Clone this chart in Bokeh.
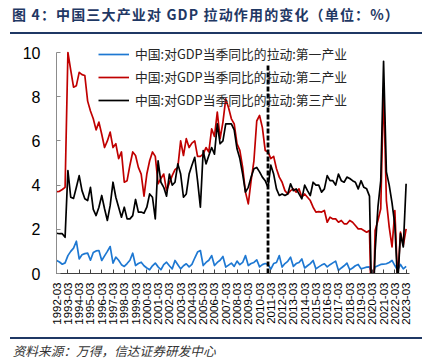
from bokeh.plotting import figure
from bokeh.models import Range1d, FixedTicker, Legend, LegendItem, Div
from bokeh.layouts import column
from bokeh.embed import file_html
from bokeh.resources import INLINE
from math import pi

# ---------------- data ----------------
quarters = [f"{y}-{m:02d}" for y in range(1992, 2024) for m in (3, 6, 9, 12)][:125]

primary = [
    0.59, 0.52, 0.42, 0.48, 0.81, 1.00, 1.15, 1.46, 0.66, 0.85, 0.90, 0.92,
    0.60, 0.95, 1.02, 1.04, 0.59, 0.80, 1.00, 1.22, 0.47, 0.74, 0.60, 0.40,
    0.32, 0.45, 0.60, 0.92, 0.36, 0.45, 0.51, 0.35, 0.25, 0.17, 0.35, 0.47,
    0.30, 0.17, 0.40, 0.51, 0.35, 0.21, 0.59, 0.40, 0.21, 0.35, 0.44, 0.30,
    0.41, 0.70, 0.97, 1.04, 0.36, 0.50, 0.60, 0.81, 0.36, 0.50, 0.60, 0.77,
    0.29, 0.38, 0.47, 0.32, 0.56, 0.40, 0.50, 0.81, 0.36, 0.45, 0.50, 0.62,
    0.30, 0.40, 0.45, 0.41, 0.20, 0.45, 0.50, 0.81, 0.29, 0.45, 0.55, 0.74,
    0.32, 0.45, 0.50, 0.66, 0.25, 0.35, 0.45, 0.59, 0.21, 0.30, 0.38, 0.44,
    0.30, 0.40, 0.48, 0.56, 0.14, 0.25, 0.35, 0.47, 0.17, 0.25, 0.35, 0.41,
    0.21, 0.25, 0.29, 0.30, -0.10, 0.29, 0.35, 0.41, 0.42, 0.44, 0.50, 0.59,
    0.36, 0.15, 0.41, 0.21, 0.32,
]

secondary = [
    3.70, 3.72, 3.80, 3.90, 10.0, 9.20, 8.43, 8.50, 9.10, 9.00, 8.96, 7.80,
    7.35, 7.00, 6.50, 6.85, 6.30, 5.70, 6.00, 6.40, 5.70, 5.87, 5.20, 5.50,
    4.13, 4.20, 4.90, 5.50, 5.34, 4.80, 4.50, 3.50, 4.50, 5.10, 5.50, 5.30,
    4.06, 4.30, 4.50, 3.75, 4.10, 4.43, 4.70, 4.80, 6.00, 5.34, 6.10, 5.70,
    5.90, 6.00, 5.30, 5.30, 5.40, 5.70, 5.50, 6.55, 6.20, 7.30, 6.10, 6.85,
    7.90, 7.50, 7.00, 6.77, 5.87, 5.57, 4.80, 3.68, 3.15, 4.20, 5.10, 6.90,
    7.15, 6.60, 5.57, 5.50, 5.20, 5.30, 4.74, 4.36, 4.13, 3.75, 3.60, 3.75,
    3.83, 3.68, 3.83, 3.45, 3.60, 3.45, 3.30, 3.00, 2.78, 2.80, 2.78, 2.85,
    2.32, 2.55, 2.47, 2.47, 2.32, 2.40, 2.25, 2.25, 2.40, 2.32, 2.17, 2.02,
    2.02, 1.95, 1.87, 1.95, -3.50, 1.95, 2.40, 2.93, 8.40, 3.30, 2.10, 1.20,
    2.85, -0.30, 1.87, 1.27, 2.02,
]

tertiary = [
    1.82, 1.80, 1.80, 1.64, 4.66, 3.45, 3.40, 3.90, 4.43, 3.75, 3.38, 3.30,
    3.90, 2.90, 2.62, 3.00, 3.53, 2.93, 2.40, 3.08, 4.13, 3.45, 3.00, 2.55,
    3.00, 2.47, 2.47, 2.62, 3.35, 2.78, 2.78, 2.73, 3.00, 3.60, 3.45, 2.47,
    5.10, 4.13, 3.90, 3.50, 4.50, 4.00, 4.13, 4.96, 4.50, 3.45, 3.60, 4.50,
    4.90, 5.26, 4.20, 3.00, 5.56, 4.96, 5.34, 5.70, 5.40, 6.77, 5.87, 6.00,
    6.77, 6.77, 6.77, 6.50, 5.64, 5.20, 4.50, 3.68, 3.90, 4.36, 4.74, 4.80,
    4.60, 4.36, 4.20, 3.90, 4.90, 4.50, 3.83, 3.53, 3.60, 3.53, 3.60, 4.06,
    3.75, 3.83, 3.60, 3.38, 4.00, 3.75, 3.53, 4.13, 4.00, 4.00, 3.68, 3.83,
    4.43, 4.20, 4.20, 4.00, 4.50, 4.20, 4.13, 4.36, 4.30, 4.20, 4.13, 3.83,
    4.20, 3.90, 3.83, 3.50, -2.50, 1.00, 3.00, 4.20, 9.60, 4.60, 4.00, 3.20,
    2.20, -0.50, 1.80, 1.20, 4.06,
]

series_names = ["中国:对GDP当季同比的拉动:第一产业",
                "中国:对GDP当季同比的拉动:第二产业",
                "中国:对GDP当季同比的拉动:第三产业"]
divider_quarter = "2010-12"
divider_height = [0, 9.5]
y_ticks = [0, 2, 4, 6, 8, 10]

title_text = "图 4：中国三大产业对 GDP 拉动作用的变化（单位：%）"
source_text = "资料来源：万得，信达证券研发中心"

# ---------------- layout ----------------
W = 433
TITLE_H, FIG_H, SRC_H = 34, 302, 28
CJK = "Noto Sans CJK SC"
NAVY = "#1F3864"

title_div = Div(
    text=(f'<div style="margin-left:10px;width:412px;height:34px;box-sizing:border-box;'
          f'border-bottom:2px solid {NAVY};padding:5px 0 0 2px;line-height:19px;'
          f'font-family:\'{CJK}\';font-size:14px;font-weight:bold;color:{NAVY};'
          f'letter-spacing:1.15px;white-space:nowrap;">{title_text}</div>'),
    width=W, height=TITLE_H, margin=0)

source_div = Div(
    text=(f'<div style="margin:1px 0 0 10px;width:412px;height:27px;box-sizing:border-box;'
          f'border-top:2px solid {NAVY};padding:4px 0 0 2.7px;line-height:16px;'
          f'font-family:\'{CJK}\';font-size:12.7px;font-style:italic;color:#333333;'
          f'white-space:nowrap;">{source_text}</div>'),
    width=W, height=SRC_H, margin=0)

# frame: abs x 56..409, abs y 42..273 (value 10 at y=52)
px_per_unit = 22.1
frame_top, frame_bottom = 42, 273
y_top = (frame_bottom - frame_top) / px_per_unit

x = list(range(len(quarters)))
p = figure(width=W, height=FIG_H, output_backend="svg", toolbar_location=None,
           x_range=Range1d(-0.05, 125.2), y_range=Range1d(0, y_top), margin=0)
p.min_border_left = 56
p.min_border_right = W - 409
p.min_border_top = frame_top - TITLE_H
p.min_border_bottom = FIG_H - (frame_bottom - TITLE_H)
p.outline_line_color = None
p.grid.visible = False
p.background_fill_color = "white"
p.border_fill_color = "white"

r1 = p.line(x, primary, line_color="#1E78D2", line_width=1.7, line_join="round")
r2 = p.line(x, secondary, line_color="#C00000", line_width=1.7, line_join="round")
r3 = p.line(x, tertiary, line_color="#000000", line_width=1.7, line_join="round")

dx = quarters.index(divider_quarter)
p.line([dx, dx], divider_height, line_color="black", line_width=2.8,
       line_dash="5 2")

# axes
yax = p.yaxis[0]
yax.ticker = FixedTicker(ticks=y_ticks)
yax.bounds = (0, 10)
yax.axis_line_color = "#8c8c8c"
yax.major_tick_line_color = "#8c8c8c"
yax.major_tick_in = 4
yax.major_tick_out = 0
yax.minor_tick_line_color = None
yax.major_label_text_font = "Liberation Sans"
yax.major_label_text_font_size = "16px"
yax.major_label_text_color = "black"
yax.major_label_standoff = 16

xax = p.xaxis[0]
xax.ticker = FixedTicker(ticks=list(range(0, len(quarters), 4)))
xax.major_label_overrides = {i: quarters[i] for i in range(0, len(quarters), 4)}
xax.major_label_orientation = pi / 2
xax.axis_line_color = "#404040"
xax.major_tick_line_color = "#404040"
xax.major_tick_in = 4
xax.major_tick_out = 0
xax.minor_tick_line_color = None
xax.major_label_text_font = "Liberation Sans"
xax.major_label_text_font_size = "11.5px"
xax.major_label_text_color = "black"
xax.major_label_standoff = 9

legend = Legend(items=[LegendItem(label=series_names[0], renderers=[r1]),
                       LegendItem(label=series_names[1], renderers=[r2]),
                       LegendItem(label=series_names[2], renderers=[r3])],
                location=(42, 164), orientation="vertical")
legend.label_text_font = CJK
legend.label_text_font_size = "12.8px"
legend.label_text_color = "#262626"
legend.glyph_width = 31
legend.glyph_height = 10
legend.label_height = 10
legend.label_standoff = 6
legend.spacing = 4
legend.padding = 0
legend.margin = 0
legend.border_line_alpha = 0
legend.background_fill_alpha = 0
p.add_layout(legend, "center")

layout = column(title_div, p, source_div, spacing=0, margin=0)
open("out.html", "w").write(file_html(layout, INLINE))
